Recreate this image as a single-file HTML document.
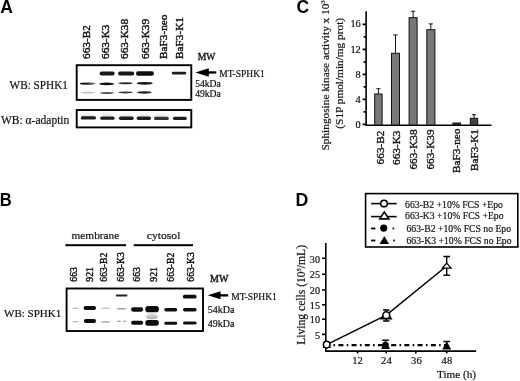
<!DOCTYPE html>
<html><head><meta charset="utf-8">
<style>
html,body{margin:0;padding:0;background:#fff;width:520px;height:381px;overflow:hidden}
svg{display:block;will-change:transform}
.s{font-family:"Liberation Serif",serif;fill:#111;stroke:#111;stroke-width:0.2px}
.b{font-family:"Liberation Sans",sans-serif;font-weight:bold;fill:#000}
</style></head><body>
<svg width="520" height="381" viewBox="0 0 520 381">
<defs>
<filter id="bl" x="-20%" y="-100%" width="140%" height="300%"><feGaussianBlur stdDeviation="0.75"/></filter>
<filter id="bl2" x="-20%" y="-100%" width="140%" height="300%"><feGaussianBlur stdDeviation="1.1"/></filter>
<linearGradient id="gl" x1="0" x2="1" y1="0" y2="0"><stop offset="0" stop-color="#000"/><stop offset="0.45" stop-color="#222"/><stop offset="1" stop-color="#777"/></linearGradient>
</defs>

<!-- ============ PANEL A ============ -->
<text class="b" x="0.3" y="12.9" font-size="17.5">A</text>
<g class="s" font-size="10.5" style="stroke-width:0.4px">
<text transform="translate(89.7,59) rotate(-90) scale(1.075,1)">663-B2</text>
<text transform="translate(109.1,59) rotate(-90) scale(1.075,1)">663-K3</text>
<text transform="translate(127.5,59) rotate(-90) scale(1.075,1)">663-K38</text>
<text transform="translate(149,59) rotate(-90) scale(1.075,1)">663-K39</text>
<text transform="translate(167.3,59) rotate(-90) scale(1.075,1)">BaF3-neo</text>
<text transform="translate(183,59) rotate(-90) scale(1.075,1)">BaF3-K1</text>
<text x="197.7" y="59.8" textLength="17.6" lengthAdjust="spacingAndGlyphs">MW</text>
</g>
<g class="s">
<text x="9.6" y="89.4" font-size="12.2" textLength="58.3" lengthAdjust="spacingAndGlyphs">WB: SPHK1</text>
<text x="1.0" y="124" font-size="11.5">WB: α-adaptin</text>
<text x="219.2" y="77.3" font-size="9.5">MT-SPHK1</text>
<text x="195.2" y="87.4" font-size="9.6">54kDa</text>
<text x="195.2" y="97.4" font-size="9.6">49kDa</text>
</g>
<!-- arrow A -->
<polygon points="195.4,72.5 208.8,68.3 208.8,76.7" fill="#000"/>
<rect x="207" y="71.3" width="9.3" height="2.3" fill="#000"/>
<!-- blot A1 -->
<g filter="url(#bl)">
<ellipse cx="87.6" cy="83.6" rx="7.9" ry="1.15" fill="url(#gl)"/>
<ellipse cx="87.8" cy="92.6" rx="7.3" ry="0.85" fill="#bdbdbd"/>
<rect x="99.6" y="71.5" width="15" height="4" rx="2" fill="#151515"/>
<ellipse cx="106.7" cy="83.9" rx="7.6" ry="1.3" fill="#111"/>
<ellipse cx="107" cy="93" rx="7" ry="0.95" fill="#555"/>
<rect x="118" y="71.4" width="16.2" height="4.1" rx="2" fill="#151515"/>
<ellipse cx="125.6" cy="83.2" rx="7.1" ry="1.0" fill="#2a2a2a"/>
<ellipse cx="125.6" cy="92.4" rx="7.1" ry="1.0" fill="#333"/>
<rect x="136" y="71.2" width="18" height="4.6" rx="2.2" fill="#111"/>
<ellipse cx="144.7" cy="83.3" rx="8.1" ry="1.35" fill="#151515"/>
<ellipse cx="144.4" cy="92.4" rx="7.2" ry="1.25" fill="#222"/>
<rect x="171.8" y="71.7" width="14.4" height="2.9" rx="1.4" fill="#1a1a1a"/>
</g>
<rect x="76.7" y="65.2" width="114.6" height="34.7" fill="none" stroke="#000" stroke-width="1.9"/>
<!-- blot A2 -->
<g filter="url(#bl2)" fill="#e6e6e6">
<ellipse cx="88" cy="116" rx="7" ry="2"/>
<ellipse cx="107" cy="115" rx="6" ry="2.4"/>
<ellipse cx="126" cy="116" rx="7" ry="2"/>
<ellipse cx="144" cy="116" rx="7" ry="2"/>
<ellipse cx="161" cy="116" rx="7" ry="2"/>
</g>
<g filter="url(#bl)" fill="#1e1e1e">
<rect x="80.8" y="116.3" width="15.2" height="3.3" rx="1.6"/>
<rect x="100.2" y="116.5" width="14.4" height="3.3" rx="1.6"/>
<rect x="118.9" y="116.6" width="14.8" height="3.3" rx="1.6"/>
<rect x="136.6" y="116.5" width="14.4" height="3.5" rx="1.7"/>
<rect x="154" y="116.8" width="14.8" height="3.1" rx="1.5" fill="#333"/>
<rect x="173" y="116.8" width="13.8" height="3.1" rx="1.5"/>
</g>
<rect x="76.7" y="110" width="114.6" height="17.4" fill="none" stroke="#000" stroke-width="1.9"/>

<!-- ============ PANEL B ============ -->
<text class="b" transform="translate(-0.7,206) scale(0.92,1)" x="0.5" y="0" font-size="18">B</text>
<g class="s" font-size="10.9">
<text x="71.6" y="238.8" textLength="47.6" lengthAdjust="spacingAndGlyphs">membrane</text>
<text x="146.8" y="238.8" textLength="33.6" lengthAdjust="spacingAndGlyphs">cytosol</text>
</g>
<rect x="65.4" y="244.2" width="60.6" height="2" fill="#000"/>
<rect x="133.7" y="244.2" width="59.3" height="2" fill="#000"/>
<g class="s" font-size="9.7" style="stroke-width:0.4px">
<text transform="translate(76.9,281.7) rotate(-90)">663</text>
<text transform="translate(92.5,281.7) rotate(-90)">921</text>
<text transform="translate(106.9,281.7) rotate(-90)">663-B2</text>
<text transform="translate(123.75,281.7) rotate(-90)">663-K3</text>
<text transform="translate(140.4,281.7) rotate(-90)">663</text>
<text transform="translate(156.7,281.7) rotate(-90)">921</text>
<text transform="translate(174,281.7) rotate(-90)">663-B2</text>
<text transform="translate(194.2,281.7) rotate(-90)">663-K3</text>
<text x="210" y="282" font-size="10">MW</text>
</g>
<g class="s">
<text x="4" y="317.2" font-size="11">WB: SPHK1</text>
<text x="231.2" y="300" font-size="9.5">MT-SPHK1</text>
<text x="207.7" y="312.7" font-size="10">54kDa</text>
<text x="207.7" y="327.2" font-size="10">49kDa</text>
</g>
<polygon points="207.7,295.3 220.5,291.3 220.5,299.2" fill="#000"/>
<rect x="219" y="294.2" width="9.2" height="2.3" fill="#000"/>
<g filter="url(#bl)" fill="#111">
<ellipse cx="75.3" cy="308.2" rx="3.8" ry="0.7" fill="#c4c4c4"/>
<ellipse cx="75.3" cy="321.6" rx="3.8" ry="0.7" fill="#b4b4b4"/>
<rect x="83.6" y="305.9" width="12.4" height="4.1" rx="1.9"/>
<rect x="83.8" y="319" width="12.2" height="4" rx="1.9"/>
<ellipse cx="105.7" cy="308.3" rx="5" ry="0.75" fill="#c4c4c4"/>
<ellipse cx="105.7" cy="321.8" rx="5" ry="0.85" fill="#b0b0b0"/>
<rect x="115.8" y="294.6" width="11.6" height="1.9" rx="0.9" fill="#222"/>
<ellipse cx="121.5" cy="308.7" rx="5.3" ry="0.75" fill="#999"/>
<ellipse cx="119" cy="321.2" rx="2" ry="0.8" fill="#999"/>
<ellipse cx="124.5" cy="321.2" rx="2" ry="0.8" fill="#aaa"/>
<rect x="131" y="307.3" width="12.2" height="4.4" rx="2.1"/>
<rect x="131" y="320.7" width="12.2" height="4" rx="2"/>
<rect x="145.3" y="305.9" width="13.6" height="6.3" rx="2.8"/>
<ellipse cx="152" cy="316.5" rx="6.2" ry="3" fill="#d4d4d4"/>
<ellipse cx="152" cy="317.8" rx="5.5" ry="1.2" fill="#b8b8b8"/>
<rect x="145.3" y="320.1" width="13.6" height="5.6" rx="2.6"/>
<rect x="164.3" y="308" width="12.9" height="3.4" rx="1.6"/>
<rect x="164.3" y="321.8" width="12.9" height="2.9" rx="1.4"/>
<rect x="182.8" y="294.7" width="13.8" height="3.9" rx="1.9"/>
<rect x="183" y="308" width="13.6" height="3.4" rx="1.6"/>
<rect x="183" y="321.6" width="13.6" height="3" rx="1.5"/>
</g>
<rect x="66.6" y="288.5" width="136.4" height="42.5" fill="none" stroke="#000" stroke-width="1.9"/>

<!-- ============ PANEL C ============ -->
<text class="b" x="296.6" y="12.9" font-size="17.5">C</text>
<g class="s" font-size="11.3">
<text transform="translate(328.6,75.3) rotate(-90)" text-anchor="middle">Sphingosine kinase activity x 10<tspan dy="-4" font-size="7">3</tspan></text>
<text transform="translate(343,73.3) rotate(-90)" text-anchor="middle">(S1P pmol/min/mg prot)</text>
</g>
<g stroke="#000" stroke-width="1.6" fill="none">
<path d="M366.1,11.3 V125.2 H491.5"/>
<path d="M362.6,24.4 H366 M363.6,36.9 H366 M362.6,49.4 H366 M363.6,61.9 H366 M362.6,74.4 H366 M363.6,86.9 H366 M362.6,99.4 H366 M363.6,111.9 H366 M362.6,124.4 H366"/>
</g>
<g class="s" font-size="10.4" text-anchor="end">
<text x="360.8" y="27.3">16</text>
<text x="360.8" y="52.5">12</text>
<text x="360.8" y="77.5">8</text>
<text x="360.8" y="102.6">4</text>
<text x="360.8" y="128">0</text>
</g>
<g stroke="#111" stroke-width="1">
<path d="M378.4,94 V88.7 M376.3,88.7 H380.5 M395.5,52.8 V34.9 M393.3,34.9 H397.5 M413.1,17.1 V11.3 M411,11.3 H415.2 M430.8,29.2 V23.9 M428.7,23.9 H432.9 M474,117.9 V114.7 M472,114.7 H476"/>
</g>
<g stroke="#111" stroke-width="1" fill="#787878">
<rect x="374.7" y="94" width="7.4" height="31"/>
<rect x="391.5" y="53.3" width="8" height="71.7"/>
<rect x="409.1" y="17.6" width="8" height="107.4"/>
<rect x="426.8" y="29.7" width="8.1" height="95.3"/>
<rect x="452.9" y="123" width="7.6" height="2" fill="#333"/>
<rect x="470.3" y="118.3" width="7.4" height="6.7" fill="#444"/>
</g>
<g class="s" font-size="11.3" text-anchor="end" style="stroke-width:0.35px">
<text transform="translate(383.9,130.5) rotate(-90)">663-B2</text>
<text transform="translate(399.6,130.5) rotate(-90)">663-K3</text>
<text transform="translate(417,129.4) rotate(-90)">663-K38</text>
<text transform="translate(434.3,129.4) rotate(-90)">663-K39</text>
<text transform="translate(460,128.5) rotate(-90)">BaF3-neo</text>
<text transform="translate(477.9,129) rotate(-90)">BaF3-K1</text>
</g>

<!-- ============ PANEL D ============ -->
<text class="b" x="295.6" y="206.3" font-size="17.8">D</text>
<rect x="365.6" y="193.6" width="152.2" height="53.4" fill="none" stroke="#000" stroke-width="1.6"/>
<g stroke="#000" stroke-width="1.6" fill="#fff">
<path d="M371.1,203.6 H396.7"/>
<circle cx="384" cy="203.6" r="3.3"/>
<path d="M371.1,216.6 H396.7"/>
<polygon points="384.3,212 388.8,218.9 379.8,218.9"/>
</g>
<g fill="#000">
<rect x="371.1" y="227.6" width="4.3" height="1.8"/>
<circle cx="383.7" cy="228.1" r="3.6"/>
<rect x="392.6" y="227.6" width="1.6" height="1.8"/>
<rect x="371.1" y="239.6" width="4.3" height="1.8"/>
<polygon points="384.3,236 389,243.9 379.6,243.9"/>
<rect x="393.3" y="239.6" width="1.6" height="1.8"/>
</g>
<g class="s" font-size="9.7">
<text x="405.1" y="207.6">663-B2 +10% FCS +Epo</text>
<text x="405.1" y="219.2">663-K3 +10% FCS +Epo</text>
<text x="406.5" y="231.8">663-B2 +10% FCS no Epo</text>
<text x="406.5" y="244.1">663-K3 +10% FCS no Epo</text>
</g>
<!-- axes D -->
<g stroke="#000" stroke-width="1.6" fill="none">
<path d="M325.8,242.9 V351.1 H476.2"/>
<path d="M322,258.3 H326 M322,274.3 H326 M322,290 H326 M322,304.8 H326 M322,319.3 H326 M322,334.4 H326"/>
<path d="M357.6,351 V353.5 M386.3,351 V353.5 M415.8,351 V353.5 M446.7,351 V353.5"/>
</g>
<g class="s" font-size="10.2" text-anchor="end">
<text x="320" y="262.6">30</text>
<text x="320" y="278.3">25</text>
<text x="320" y="294">20</text>
<text x="320" y="308.8">15</text>
<text x="320" y="323.3">10</text>
<text x="320" y="338.6">5</text>
</g>
<g class="s" font-size="10.6" text-anchor="middle">
<text x="357.5" y="364.3">12</text>
<text x="386.4" y="364.3">24</text>
<text x="416.4" y="364.3">36</text>
<text x="446.9" y="363.6">48</text>
</g>
<text class="s" x="437" y="378.2" font-size="11.2">Time (h)</text>
<text class="s" transform="translate(304.8,344.8) rotate(-90)" font-size="11.6">Living cells (10<tspan dy="-4" font-size="6.5">5</tspan><tspan dy="4">/mL)</tspan></text>
<!-- data D -->
<path d="M325.2,345.2 H446" stroke="#000" stroke-width="2.3" stroke-dasharray="5,3.3,1.6,3.3" fill="none"/>
<path d="M326.7,344.6 L386.3,315.2 L446.7,266" stroke="#000" stroke-width="1.5" fill="none"/>
<g stroke="#000" stroke-width="1.4">
<path d="M386.3,310 V321 M383.1,310 H389.5 M383.1,321 H389.5"/>
<path d="M446.7,256.5 V275.2 M443.4,256.5 H450 M443.4,275.2 H450"/>
<path d="M385.5,340.2 V349 M382.2,340.2 H388.8"/>
<path d="M446.7,341.5 V349 M443.4,341.5 H450"/>
</g>
<g fill="#000">
<polygon points="326.7,340.5 331,348 322.4,348"/>
<polygon points="385.5,341 390,349 381,349"/>
<circle cx="385.5" cy="345" r="3.3"/>
<polygon points="446.7,341.3 451.2,349.6 442.2,349.6"/>
</g>
<g stroke="#000" stroke-width="1.5" fill="#fff">
<polygon points="386.3,311 391.2,318.7 381.4,318.7"/>
<circle cx="386.3" cy="315.2" r="3.4"/>
<polygon points="446.7,263.1 451,268.2 442.4,268.2" stroke-width="1.3"/>
<circle cx="326.7" cy="344.6" r="3.3"/>
</g>
</svg>
</body></html>
